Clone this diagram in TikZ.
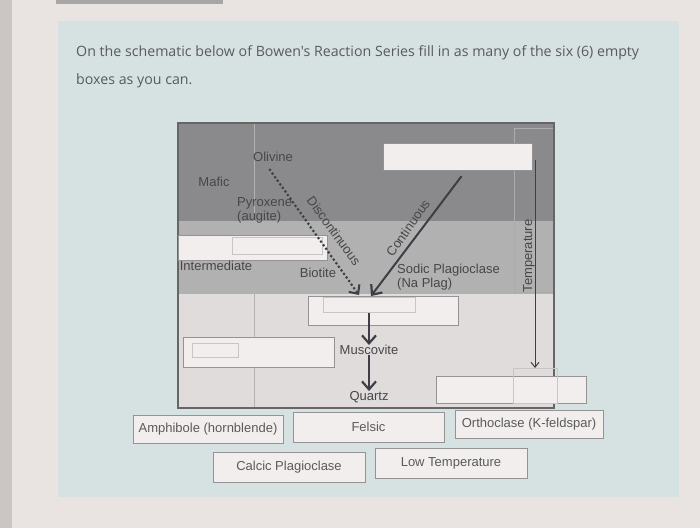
\documentclass[tikz,border=0pt]{standalone}
\usepackage{fontspec}
\setmainfont{Liberation Sans}
\newfontfamily\titlefont{Open Sans}
\usetikzlibrary{arrows.meta, calc}
\definecolor{screenbg}{HTML}{E9E4E2}
\definecolor{screenedge}{HTML}{CBC5C3}
\definecolor{panelbg}{HTML}{D5E2E1}
\definecolor{darkband}{HTML}{8A8A8C}
\definecolor{midband}{HTML}{B2B1B1}
\definecolor{lightband}{HTML}{DFDCDB}
\definecolor{boxfill}{HTML}{F2EEEE}
\definecolor{inktext}{HTML}{474749}
\definecolor{arrowink}{HTML}{3E3E46}
\tikzset{
  lbl/.style = {inner sep = 0pt, text = inktext, font = \fontsize{13}{14}\selectfont},
  blankbox/.style = {draw = gray!85, fill = boxfill, inner sep = 0pt,
                     minimum width = 150pt, minimum height = 28pt},
  answerbox/.style = {blankbox, text = inktext!90, font = \fontsize{13}{14}\selectfont},
  ghostbox/.style = {draw = gray!45, line width = .5pt},
  bigarrow/.style = {arrowink, line width = 2.4pt,
                     -{Straight Barb[length = 8pt, width = 14pt, line width = 2.2pt]}}
}
\begin{document}
\begin{tikzpicture}[x = 1pt, y = -1pt]
  \useasboundingbox (0,0) rectangle (700,528);
  % screen and panel
  \fill [screenbg] (0,0) rectangle (700,528);
  \fill [screenedge] (0,0) rectangle (12,528);
  \fill [gray!70] (56,0) rectangle (223,4);
  \fill [panelbg] (58,21) rectangle (679,497);
  \node [anchor = north west, align = left, inner sep = 0pt, text = inktext!90,
         font = \titlefont\fontsize{14.2}{28}\selectfont] (question) at (76,45)
    {On the schematic below of Bowen's Reaction Series fill in as many of the six (6) empty\\
     boxes as you can.};
  % schematic bands
  \fill [darkband] (178,123) rectangle (554,221);
  \fill [midband] (178,221) rectangle (554,294);
  \fill [lightband] (178,294) rectangle (554,408);
  \draw [gray!60] (254,123) -- (254,408);
  \draw [ghostbox, gray!65] (514,128) rectangle (553,292);
  \draw [gray!80!black, line width = 1.2pt] (178,123) rectangle (554,408);
  % empty boxes
  \node [blankbox, minimum width = 149pt, minimum height = 27pt] (boxA) at (457.5,156.5) {};
  \node [blankbox, minimum width = 149pt, minimum height = 25pt] (boxB) at (252.5,247.5) {};
  \node [blankbox, minimum height = 29pt] (boxC) at (383,310.5) {};
  \node [blankbox, minimum width = 151pt, minimum height = 30pt] (boxD) at (258.5,352) {};
  \node [blankbox, minimum height = 27pt] (boxE) at (511,389.5) {};
  \draw [ghostbox] (232,237) rectangle (322,254);
  \draw [ghostbox] (323,297) rectangle (415,312);
  \draw [ghostbox] (192,343) rectangle (238,357);
  \draw [ghostbox] (513,368) rectangle (557,403);
  % mineral labels
  \node [lbl] (mafic) at (214,182) {Mafic};
  \node [lbl] (olivine) at (273,157) {Olivine};
  \node [lbl, anchor = west, align = left] (pyroxene) at (237,210) {Pyroxene\\(augite)};
  \node [lbl] (intermediate) at (216,266) {Intermediate};
  \node [lbl] (biotite) at (318,273) {Biotite};
  \node [lbl, anchor = west, align = left] (sodic) at (397,277) {Sodic Plagioclase\\(Na Plag)};
  \node [lbl] (musc) at (369,350) {Muscovite};
  \node [lbl] (quartz) at (369,397) {Quartz};
  \node [lbl, rotate = 90] (temp) at (529,256) {Temperature};
  \node [lbl, rotate = -54] (discont) at (334,231) {Discontinuous};
  \node [lbl, rotate = 55] (cont) at (408,228) {Continuous};
  % series arrows
  \coordinate (discTip) at (359,295);
  \coordinate (contTip) at (371,296);
  \coordinate (muscTop) at (369,313);
  \coordinate (tempTop) at (535,160);
  \coordinate (tempTip) at (535,368);
  \draw [arrowink, line width = 3pt, line cap = round, dash pattern = on 0pt off 4.4pt,
         -{Straight Barb[length = 7pt, width = 13pt, line width = 2pt]}]
    ($(olivine.south) + (-3,8)$) -- (discTip);
  \draw [bigarrow, line width = 2pt] ($(boxA.south) + (4,6)$) -- (contTip);
  \draw [bigarrow] (muscTop) -- (musc.north);
  \draw [bigarrow] (musc.south) -- (quartz.north);
  \draw [arrowink, line width = 1pt,
         -{Straight Barb[length = 5pt, width = 8pt, line width = 1pt]}] (tempTop) -- (tempTip);
  % answer boxes
  \node [answerbox] (amphibole) at (208,429.5) {Amphibole (hornblende)};
  \node [answerbox, minimum width = 151pt, minimum height = 30pt] (felsic) at (368.5,427) {Felsic};
  \node [answerbox, minimum width = 148pt] (orthoclase) at (529,424.5) {Orthoclase (K-feldspar)};
  \node [answerbox, minimum width = 152pt, minimum height = 30pt] (calcic) at (289,467) {Calcic Plagioclase};
  \node [answerbox, minimum width = 152pt, minimum height = 30pt] (lowtemp) at (451,463) {Low Temperature};
\end{tikzpicture}
\end{document}
